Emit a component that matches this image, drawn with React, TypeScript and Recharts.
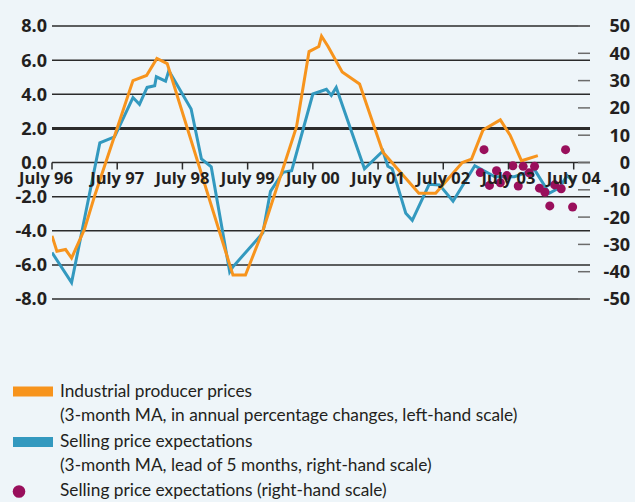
import { ComposedChart, Line, Scatter, XAxis, YAxis, CartesianGrid, ReferenceLine } from 'recharts';

// x values are months counted from July 1996
const monthTicks = [0, 12, 24, 36, 48, 60, 72, 84, 96];
const monthLabels = ['July 96', 'July 97', 'July 98', 'July 99', 'July 00', 'July 01', 'July 02', 'July 03', 'July 04'];
const leftTicks = [-8, -6, -4, -2, 0, 2, 4, 6, 8];
const rightTicks = [-50, -40, -30, -20, -10, 0, 10, 20, 30, 40, 50];

// Industrial producer prices (3-month MA, % y/y, left-hand scale)
const producerMonths = [0, 0.9, 2.5, 3.6, 6.0, 7.9, 14.9, 17.4, 19.3, 21.2, 33.3, 35.6, 38.8, 45.0, 47.3, 49.1, 49.6, 50.8, 53.4, 56.6, 60.9, 67.5, 70.6, 75.5, 77.2, 79.3, 82.5, 84.3, 86.4, 89.4];
const producerValues = [-4.3, -5.2, -5.1, -5.6, -3.9, -1.9, 4.8, 5.1, 6.1, 5.8, -6.6, -6.6, -4.0, 2.1, 6.5, 6.8, 7.4, 6.8, 5.3, 4.6, 0.6, -1.8, -1.8, 0.0, 0.2, 1.9, 2.5, 1.6, 0.1, 0.4];

// Selling price expectations (3-month MA, lead of 5 months, right-hand scale)
const expectMaMonths = [0, 3.6, 8.8, 11.5, 14.9, 16.1, 17.5, 18.9, 19.2, 20.9, 21.5, 25.6, 27.5, 29.3, 32.7, 33.3, 38.8, 40.2, 42.5, 44.1, 48.0, 50.5, 51.4, 52.3, 57.5, 60.9, 61.8, 62.6, 63.5, 65.1, 66.3, 69.4, 71.3, 73.8, 77.8, 81.5, 85.1, 88.8, 91.5, 93.4, 94.8, 95.9];
const expectMaValues = [-33, -44, 7.2, 9.4, 23.8, 21.3, 27.5, 28.1, 31.4, 29.8, 33.6, 19.6, 1.3, -1.6, -40.1, -38.2, -25.8, -10.6, -3.6, -3.0, 25.1, 26.8, 24.6, 27.5, -2.3, 4.2, -1.4, -2.3, -8.0, -18.6, -21.2, -8.0, -8.2, -14.2, -1.2, -5.2, -5.2, -2.6, -11.3, -9.2, -4.8, -6.8];

// Selling price expectations (right-hand scale)
const expectMonths = [78.8, 79.5, 80.5, 81.8, 82.5, 83.7, 84.8, 85.8, 86.7, 87.8, 88.8, 89.7, 90.7, 91.6, 92.5, 93.7, 94.5, 95.8];
const expectValues = [-3.7, 4.7, -8.4, -3.0, -7.4, -4.8, -1.2, -8.6, -1.4, -3.8, -1.4, -9.4, -10.9, -15.9, -8.2, -9.6, 4.7, -16.3];

const producerData = producerMonths.map((m, i) => ({ m, v: producerValues[i] }));
const expectMaData = expectMaMonths.map((m, i) => ({ m, v: expectMaValues[i] }));
const expectData = expectMonths.map((m, i) => ({ m, v: expectValues[i] }));

const ORANGE = '#F7941D';
const BLUE = '#3399BF';
const PURPLE = '#990F5C';
const INK = '#231F20';
const GRID = '#2B2B2B';
const BG = '#EEF5F9';

const PLOT_TOP = 26;
const PLOT_BOTTOM = 299;
const ZERO_Y = (PLOT_TOP + PLOT_BOTTOM) / 2; // left scale runs -8..8

const boldFont = '"Open Sans", "DejaVu Sans", sans-serif';
const lightFont = 'Lato, "Open Sans", sans-serif';

function MonthTick(props: any) {
  const { x, payload } = props;
  const idx = monthTicks.indexOf(payload.value);
  // first label is nudged left, as in the original
  const shift = idx === 0 ? -6 : 0;
  return (
    <g>
      <line x1={x} x2={x} y1={ZERO_Y} y2={ZERO_Y + 7} stroke={GRID} strokeWidth={1.5} />
      <text x={x + shift} y={ZERO_Y + 21} textAnchor="middle" fontFamily={boldFont} fontWeight={700} fontSize={16.5} fill={INK}>
        {monthLabels[idx]}
      </text>
    </g>
  );
}

function RightTick(props: any) {
  const { x, y, payload } = props;
  return (
    <g>
      <line x1={x - 12} x2={x} y1={y} y2={y} stroke="#6B6B6B" strokeWidth={1.5} />
      <text x={x + 40} y={y} dy="0.36em" textAnchor="end" fontFamily={boldFont} fontWeight={700} fontSize={18} fill={INK}>
        {payload.value}
      </text>
    </g>
  );
}

export default function App() {
  return (
    <div style={{ position: 'absolute', left: 0, top: 0, width: 635, height: 502, background: BG, overflow: 'hidden' }}>
      <ComposedChart width={635} height={320} margin={{ top: PLOT_TOP, right: 0, bottom: 20, left: 8 }}>
        <CartesianGrid yAxisId="left" vertical={false} stroke={GRID} strokeWidth={1.5} />
        <XAxis
          dataKey="m"
          type="number"
          domain={[0, 99]}
          allowDataOverflow
          ticks={monthTicks}
          interval={0}
          height={1}
          axisLine={false}
          tickLine={false}
          tickSize={0}
          tickMargin={0}
          tick={(p: any) => <MonthTick {...p} />}
        />
        <YAxis
          yAxisId="left"
          domain={[-8, 8]}
          ticks={leftTicks}
          interval={0}
          width={44}
          axisLine={false}
          tickLine={false}
          tickSize={0}
          tickMargin={5}
          tickFormatter={(v: number) => v.toFixed(1)}
          tick={{ fontFamily: boldFont, fontWeight: 700, fontSize: 18, fill: INK }}
        />
        <YAxis
          yAxisId="right"
          orientation="right"
          domain={[-50, 50]}
          ticks={rightTicks}
          interval={0}
          width={45}
          axisLine={false}
          tickLine={false}
          tickSize={0}
          tickMargin={0}
          tick={(p: any) => <RightTick {...p} />}
        />
        <ReferenceLine yAxisId="left" y={2} stroke={GRID} strokeWidth={3} />
        <Line
          yAxisId="right"
          data={expectMaData}
          dataKey="v"
          type="linear"
          stroke={BLUE}
          strokeWidth={3}
          dot={false}
          isAnimationActive={false}
        />
        <Line
          yAxisId="left"
          data={producerData}
          dataKey="v"
          type="linear"
          stroke={ORANGE}
          strokeWidth={3}
          dot={false}
          isAnimationActive={false}
        />
        <Scatter yAxisId="right" data={expectData} dataKey="v" fill={PURPLE} isAnimationActive={false} />
      </ComposedChart>
      <svg width={635} height={132} style={{ position: 'absolute', left: 0, top: 370 }}>
        <g fontFamily={lightFont} fontSize={17.3} fill={INK}>
          <rect x={13} y={16.5} width={40} height={10} fill={ORANGE} />
          <text x={60} y={27}>Industrial producer prices</text>
          <text x={60} y={51}>(3-month MA, in annual percentage changes, left-hand scale)</text>
          <rect x={13} y={67} width={40} height={10} fill={BLUE} />
          <text x={60} y={76.5}>Selling price expectations</text>
          <text x={60} y={101}>(3-month MA, lead of 5 months, right-hand scale)</text>
          <circle cx={19} cy={121.5} r={6.3} fill={PURPLE} />
          <text x={60} y={126}>Selling price expectations (right-hand scale)</text>
        </g>
      </svg>
    </div>
  );
}
